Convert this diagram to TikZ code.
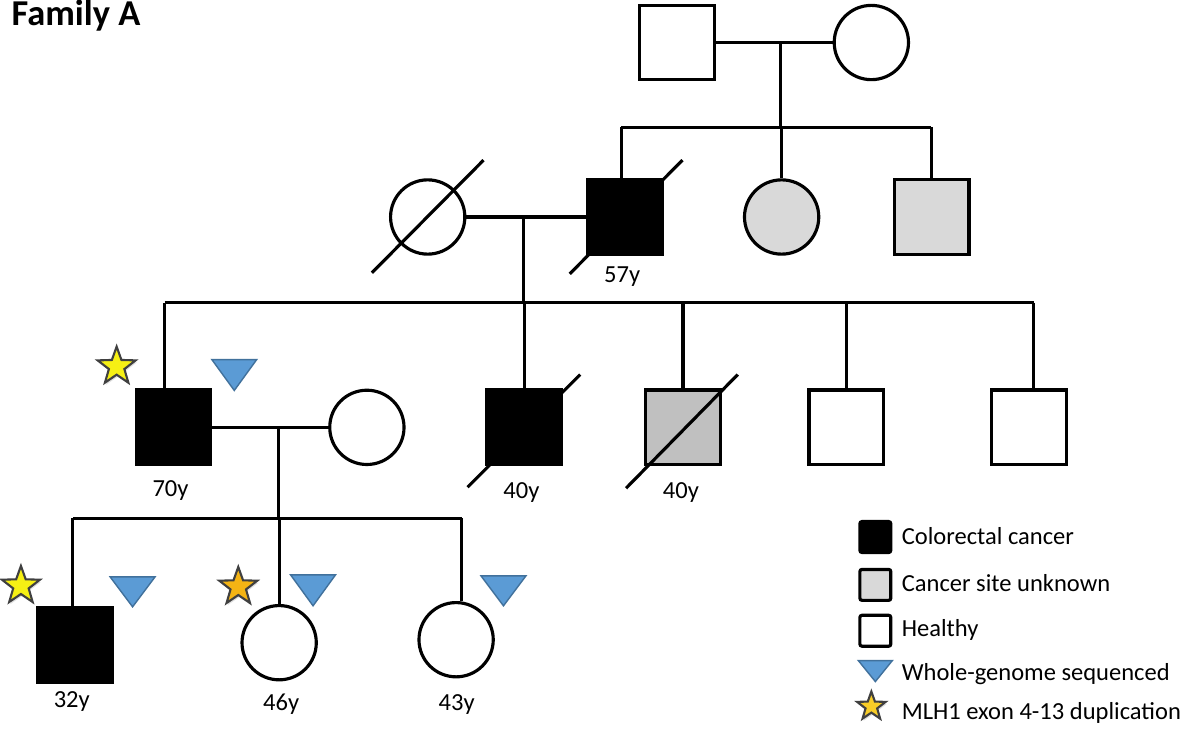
\documentclass[tikz,border=0pt]{standalone}
\usepackage{fontspec}
\setmainfont{Carlito}
\usetikzlibrary{shapes.geometric,shadows}

\definecolor{unkgray}{RGB}{217,217,217}
\definecolor{unkdark}{RGB}{192,192,192}
\definecolor{wgsblue}{RGB}{91,155,213}
\definecolor{wgsedge}{RGB}{65,113,156}
\definecolor{staryellow}{RGB}{246,240,20}
\definecolor{starorange}{RGB}{244,180,20}
\definecolor{stargold}{RGB}{248,205,40}

\tikzset{
  ped/.style={draw, line width=0.9pt, inner sep=0pt},
  male/.style={ped, rectangle, minimum size=0.75cm},
  female/.style={ped, circle, minimum size=0.745cm},
  crc/.style={fill=black},
  unk/.style={fill=unkgray},
  age/.style={anchor=base, inner sep=0pt, font=\fontsize{7pt}{8.5pt}\selectfont},
  legtext/.style={anchor=base west, inner sep=0pt, font=\fontsize{7pt}{8.5pt}\selectfont},
  legbox/.style={ped, rectangle, minimum size=0.31cm, rounded corners=0.6pt},
  wgs/.style={fill=wgsblue, draw=wgsedge, line width=0.4pt},
  mlh/.style={star, star points=5, star point ratio=2.45, draw=black!75, line width=0.6pt,
    inner sep=0pt, minimum size=0.4cm, drop shadow={opacity=0.25, shadow xshift=0.3pt, shadow yshift=-0.6pt}}
}

\begin{document}
\begin{tikzpicture}[line width=0.9pt]
\fill [color=white] (0, 0) rectangle (11.81, 7.31);

\node (title) at (0.10, 7.06) [anchor=base west, inner sep=0pt, font=\fontsize{10.4pt}{12.5pt}\selectfont\bfseries] {Family A};

\node (I1) at (6.79, 6.89) [male] {};
\node (I2) at (8.74, 6.89) [female] {};
\coordinate (c1) at (7.83, 6.89);
\coordinate (sibL1) at (6.23, 6.04);
\coordinate (sibR1) at (9.34, 6.04);
\draw (I1) -- (I2);
\draw (c1) -- (c1 |- sibL1);
\draw (sibL1) -- (sibR1);

\node (II1) at (4.29, 5.14) [female] {};
\node (II2) at (6.265, 5.14) [male, crc] {};
\node (II3) at (7.84, 5.14) [female, unk] {};
\node (II4) at (9.345, 5.14) [male, unk] {};
\node (a57) at (6.24, 4.48) [age] {57y};
\draw (sibL1) -- (sibL1 |- II2.north);
\draw (II3.north |- sibL1) -- (II3.north);
\draw (sibR1) -- (sibR1 |- II4.north);
\draw (II1.center) ++(-0.56, -0.56) -- ++(1.12, 1.13);
\draw (II2.center) ++(-0.55, -0.57) -- ++(1.13, 1.14);

\coordinate (c2) at (5.25, 5.14);
\coordinate (sibL2) at (1.65, 4.28);
\coordinate (sibR2) at (10.37, 4.28);
\draw (II1) -- (II2);
\draw (c2) -- (c2 |- sibL2);
\draw (sibL2) -- (sibR2);

\node (III1) at (1.74, 3.03) [male, crc] {};
\node (III2) at (3.68, 3.03) [female] {};
\node (III3) at (5.26, 3.03) [male, crc] {};
\node (III4) at (6.85, 3.03) [male, fill=unkdark] {};
\node (III5) at (8.49, 3.03) [male] {};
\node (III6) at (10.32, 3.03) [male] {};
\node (a70) at (1.71, 2.34) [age] {70y};
\node (a40a) at (5.23, 2.32) [age] {40y};
\node (a40b) at (6.83, 2.32) [age] {40y};
\draw (sibL2) -- (sibL2 |- III1.north);
\draw (III3.north |- sibL2) -- (III3.north);
\draw (III4.north |- sibL2) -- (III4.north);
\draw (III5.north |- sibL2) -- (III5.north);
\draw (sibR2) -- (sibR2 |- III6.north);
\draw (III3.center) ++(-0.57, -0.60) -- ++(1.13, 1.13);
\draw (III4.center) ++(-0.57, -0.61) -- ++(1.12, 1.14);
\node (s1) at (1.17, 3.64) [mlh, fill=staryellow] {};
\draw [wgs] (2.125, 3.71) -- (2.575, 3.71) -- (2.35, 3.40) -- cycle;

\coordinate (c3) at (2.79, 3.03);
\coordinate (sibL3) at (0.73, 2.12);
\coordinate (sibR3) at (4.63, 2.12);
\draw (III1) -- (III2);
\draw (c3) -- (c3 |- sibL3);
\draw (sibL3) -- (sibR3);

\node (IV1) at (0.755, 0.85) [male, crc] {};
\node (IV2) at (2.80, 0.87) [female] {};
\node (IV3) at (4.575, 0.90) [female] {};
\node (a32) at (0.72, 0.22) [age] {32y};
\node (a46) at (2.82, 0.19) [age] {46y};
\node (a43) at (4.58, 0.19) [age] {43y};
\draw (sibL3) -- (sibL3 |- IV1.north);
\draw (IV2.north |- sibL3) -- (IV2.north);
\draw (sibR3) -- (sibR3 |- IV3.north);
\node (s2) at (0.21, 1.44) [mlh, fill=staryellow] {};
\node (s3) at (2.39, 1.43) [mlh, fill=starorange] {};
\draw [wgs] (1.105, 1.53) -- (1.555, 1.53) -- (1.33, 1.23) -- cycle;
\draw [wgs] (2.915, 1.55) -- (3.365, 1.55) -- (3.14, 1.24) -- cycle;
\draw [wgs] (4.825, 1.54) -- (5.275, 1.54) -- (5.05, 1.24) -- cycle;

\node (lg1) at (8.78, 1.93) [legbox, crc] {};
\node (lg2) at (8.78, 1.45) [legbox, unk] {};
\node (lg3) at (8.78, 0.99) [legbox] {};
\draw [wgs] (8.61, 0.69) -- (8.95, 0.69) -- (8.78, 0.48) -- cycle;
\node (lg5) at (8.74, 0.23) [mlh, fill=stargold, minimum size=0.3cm] {};
\node (lt1) at (9.03, 1.85) [legtext] {Colorectal cancer};
\node (lt2) at (9.03, 1.38) [legtext] {Cancer site unknown};
\node (lt3) at (9.03, 0.93) [legtext] {Healthy};
\node (lt4) at (9.03, 0.49) [legtext] {Whole-genome sequenced};
\node (lt5) at (9.03, 0.10) [legtext] {MLH1 exon 4-13 duplication};
\end{tikzpicture}
\end{document}
